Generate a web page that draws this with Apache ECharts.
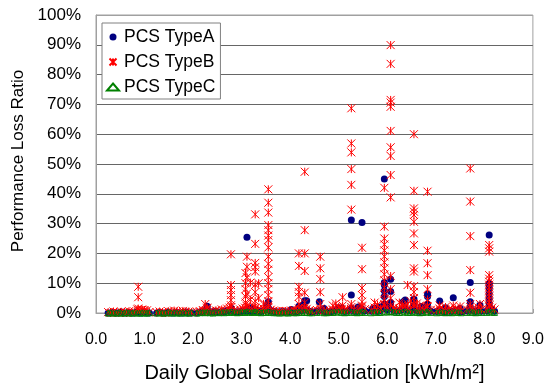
<!DOCTYPE html>
<html><head><meta charset="utf-8">
<script src="https://cdn.jsdelivr.net/npm/echarts@6/dist/echarts.min.js"></script>
<style>html,body{margin:0;padding:0;background:#fff}#c{width:547px;height:388px}</style>
</head><body><div id="c"></div>
<script>
// Daily global solar irradiation of the recorded days [kWh/m2]
const days = [
 0.25,0.30,0.36,0.42,0.47,0.52,0.58,0.63,0.68,0.74,0.79,0.85,0.90,0.95,1.00,1.05,1.10,
 1.25,1.31,1.37,1.43,1.49,1.55,1.61,1.67,1.73,1.79,1.85,1.91,1.97,
 2.08,2.14,2.20,2.25,2.29,2.35,2.41,2.47,2.53,2.59,2.64,2.70,2.75,2.79,2.85,2.91,2.97,3.02,3.07,3.11,3.16,3.21,3.26,3.29,3.34,3.40,3.45,3.50,3.55,3.60,3.66,3.72,3.78,3.84,3.90,3.96,4.02,4.08,4.13,4.18,4.24,4.30,4.34,4.40,4.45,
 4.55,4.62,4.70,4.75,4.82,4.88,4.94,5.00,5.06,5.12,5.18,5.26,5.32,5.38,5.44,5.48,5.54,5.67,5.74,5.80,5.86,5.94,6.00,6.07,6.13,6.19,6.25,6.31,6.37,6.42,6.48,6.55,6.61,6.67,6.73,6.80,6.83,6.90,7.02,7.08,7.14,7.20,7.27,7.33,7.40,7.46,7.52,7.64,7.71,7.76,7.82,7.88,7.94,8.05,8.10,8.16,8.21
];
// Baseline loss ratio [%] per day, one value per series (aligned with days)
const baseA = [
 0,0,0.2,0,0,0.3,0,0,0.2,0,0,0.4,0,0,0.2,0,0,
 0,0.2,0,0,0.3,0,0,0.2,0,0,0.3,0,0,
 0,0.3,0.5,0.8,1.2,0.4,0.3,0.6,0.2,0.5,0.4,0.8,0.6,1.5,0.4,0.3,0.5,0.6,0.8,1.2,0.7,0.5,0.9,1.0,0.6,0.5,0.8,1.1,1.8,0.7,0.5,0.4,0.3,0.5,0.4,0.3,0.5,0.6,0.4,0.9,0.8,1.2,1.0,0.5,0.4,
 0.6,0.9,0.5,0.3,0.4,0.6,1.0,1.2,0.8,0.5,0.7,1.0,0.6,0.5,0.8,1.3,0.7,0.6,1.1,0.5,0.8,1.5,1.0,1.8,0.9,0.6,0.8,1.2,1.6,0.9,0.7,1.4,0.8,0.5,0.9,1.2,1.5,0.6,0.5,1.0,0.6,0.4,0.7,0.5,0.9,0.6,0.4,0.7,1.4,0.8,0.5,1.1,0.6,0.7,1.8,1.2,0.6
];
const baseB = [
 0.3,0,0.5,0.2,0,0.4,0.3,0,0.6,0.2,0.5,1.2,0.8,1.0,0.6,0.9,0.3,
 0.2,0.5,0.3,0,0.6,0.4,0.8,0.5,0.3,0.7,0.4,0.5,0.2,
 0.4,0.6,1.0,0.8,1.5,0.7,0.5,0.9,0.6,1.2,0.8,1.5,1.8,2.0,1.0,0.7,1.2,1.5,1.8,2.2,1.6,1.4,2.0,1.8,1.3,1.0,1.5,1.2,2.0,1.1,0.8,0.6,0.5,0.7,0.6,0.5,0.8,1.0,0.7,1.5,1.2,1.8,1.4,0.9,0.6,
 1.0,1.5,0.8,0.6,0.9,1.2,1.5,1.8,1.2,1.0,1.4,2.0,1.2,0.9,1.5,2.2,1.3,1.0,1.8,1.2,1.5,2.5,2.0,2.5,1.8,1.2,1.5,2.0,2.4,1.6,1.2,2.5,1.5,1.0,1.4,2.0,2.2,1.1,0.9,1.5,1.2,0.8,1.3,1.0,1.5,1.1,0.8,1.2,2.0,1.5,1.0,1.8,1.2,1.3,2.5,1.8,1.2
];
const baseC = [
 0,0.1,0,0,0.1,0,0,0.2,0,0,0.1,0,0,0.1,0,0,0.1,
 0,0.1,0,0,0.2,0,0.1,0,0,0.1,0,0,0.1,
 0,0.1,0.2,0.1,0.3,0.1,0,0.2,0.1,0.2,0.1,0.3,0.2,0.4,0.2,0.1,0.2,0.3,0.2,0.4,0.3,0.2,0.3,0.4,0.2,0.1,0.3,0.2,0.4,0.2,0.1,0.1,0,0.1,0.1,0,0.2,0.1,0.1,0.3,0.2,0.3,0.2,0.1,0.1,
 0.2,0.3,0.1,0.1,0.2,0.2,0.3,0.4,0.2,0.1,0.2,0.3,0.2,0.1,0.2,0.4,0.2,0.1,0.3,0.2,0.2,0.4,0.3,0.5,0.3,0.2,0.2,0.3,0.4,0.2,0.2,0.4,0.2,0.1,0.2,0.3,0.4,0.2,0.1,0.3,0.2,0.1,0.2,0.1,0.3,0.2,0.1,0.2,0.4,0.2,0.1,0.3,0.2,0.2,0.4,0.3,0.2
];
// Further PCS units [irradiation, loss %]
const extraA = [
 [2.29,2.3],[3.11,25.4],[3.55,3.8],[3.53,2.8],[3.20,1.8],[4.18,2.3],[4.30,4.1],[4.34,4.1],[4.28,2.8],[4.60,3.8],
 [4.99,1.8],[5.06,1.7],[5.26,31.2],[5.48,30.4],[5.26,6.0],[5.26,1.7],[5.74,1.7],[5.70,1.5],[5.94,45.0],[5.94,10.2],
 [5.94,9.4],[5.94,7.5],[5.94,5.5],[5.94,3.0],[6.07,11.3],[6.07,7.2],[6.07,3.5],[6.07,2.2],[6.33,3.8],[6.37,4.4],
 [6.55,4.7],[6.55,2.5],[6.83,6.4],[6.83,5.5],[6.83,3.0],[7.08,4.0],[7.36,5.1],[7.71,10.2],[7.71,3.8],[7.71,2.0],
 [7.91,2.7],[8.10,26.2],[8.10,9.9],[8.10,9.2],[8.10,8.2],[8.10,6.5],[8.10,4.8],[8.10,3.2],[8.10,2.0],[6.00,2.5],
 [5.40,2.0],[4.70,1.5],[5.86,2.0],[6.70,2.2],[7.20,1.8],[7.50,1.5],[4.02,1.2]
];
const extraB = [
 [0.87,8.8],[0.87,5.3],[0.87,1.5],[0.95,1.2],[1.00,1.0],[2.25,3.0],[2.29,1.8],
 [2.78,19.7],[2.78,9.4],[2.78,7.7],[2.78,6.0],[2.78,4.3],[2.78,2.6],
 [3.08,13.4],[3.08,10.0],[3.08,8.0],[3.08,5.5],[3.08,3.5],
 [3.11,18.9],[3.11,15.5],[3.11,12.0],[3.11,6.5],[3.11,2.5],[3.18,10.2],[3.18,4.5],
 [3.28,33.1],[3.28,23.2],[3.28,16.8],[3.28,15.4],[3.28,13.9],[3.28,9.5],[3.28,7.0],[3.28,4.0],[3.35,10.0],[3.35,5.0],[3.45,3.0],
 [3.55,41.5],[3.55,37.0],[3.55,33.7],[3.55,29.5],[3.55,27.8],[3.55,26.0],[3.55,24.5],[3.55,22.0],[3.55,18.9],
 [3.55,16.5],[3.55,14.5],[3.55,12.0],[3.55,10.0],[3.55,8.0],[3.55,6.0],[3.55,4.0],[3.55,2.5],
 [4.18,20.0],[4.18,15.8],[4.18,8.8],[4.18,7.0],[4.18,5.5],[4.18,3.0],
 [4.30,47.4],[4.30,27.8],[4.30,20.0],[4.30,14.1],[4.30,6.8],[4.30,3.5],
 [4.62,18.9],[4.62,15.0],[4.62,11.4],[4.62,7.0],[4.62,3.0],[4.88,2.5],[4.94,3.2],[5.00,2.0],
 [5.08,5.3],[5.08,2.5],
 [5.26,68.7],[5.26,56.9],[5.26,53.9],[5.26,48.3],[5.26,43.0],[5.26,34.7],[5.26,3.0],
 [5.48,21.9],[5.48,14.7],[5.48,8.4],[5.48,6.0],[5.48,3.8],[5.48,2.5],[5.74,3.5],[5.80,2.8],
 [5.94,42.0],[5.94,29.0],[5.94,25.0],[5.94,23.0],[5.94,21.0],[5.94,19.0],[5.94,17.0],[5.94,15.0],[5.94,13.0],
 [5.94,11.0],[5.94,8.5],[5.94,6.5],[5.94,4.5],[5.94,3.0],
 [6.07,89.9],[6.07,83.6],[6.07,71.5],[6.07,70.6],[6.07,69.2],[6.07,61.1],[6.07,55.6],[6.07,52.7],[6.07,46.3],
 [6.07,38.8],[6.07,12.4],[6.07,8.0],[6.07,5.0],
 [6.25,3.5],[6.31,2.8],[6.42,9.4],[6.42,3.0],[6.48,4.0],[6.61,3.2],[6.67,2.5],
 [6.55,60.0],[6.55,41.0],[6.55,35.1],[6.55,34.0],[6.55,32.9],[6.55,30.6],[6.55,26.7],[6.55,22.8],[6.55,15.0],
 [6.55,13.9],[6.55,9.0],[6.55,7.0],[6.55,5.0],[6.55,3.0],
 [6.83,40.7],[6.83,20.9],[6.83,16.7],[6.83,12.7],[6.83,8.0],[6.83,4.5],
 [7.08,2.5],[7.20,2.0],[7.36,2.5],[7.50,2.2],
 [7.71,48.5],[7.71,37.4],[7.71,25.8],[7.71,14.4],[7.71,6.8],[7.71,3.0],[7.91,3.0],
 [8.10,22.8],[8.10,21.7],[8.10,20.6],[8.10,12.7],[8.10,11.5],[8.10,10.5],[8.10,9.5],[8.10,8.5],[8.10,7.5],
 [8.10,6.5],[8.10,5.5],[8.10,4.5],[8.10,3.5],[8.10,2.5]
];
const seriesNames = ['PCS TypeA','PCS TypeB','PCS TypeC'];
const xTicks = [0,1,2,3,4,5,6,7,8,9];
const yTicks = [0,10,20,30,40,50,60,70,80,90,100];

const dataA = days.map((d,i)=>[d,baseA[i]]).concat(extraA);
const dataB = days.map((d,i)=>[d,baseB[i]]).concat(extraB);
const dataC = days.map((d,i)=>[d,baseC[i]]);

const FONT = 'Liberation Sans, Arial, sans-serif';
const chart = echarts.init(document.getElementById('c'), null, {renderer:'canvas'});
chart.setOption({
  animation:false,
  backgroundColor:'#fff',
  textStyle:{fontFamily:FONT,color:'#000'},
  grid:{left:96,right:12,top:15,bottom:75,show:true,borderColor:'#a0a0a0',borderWidth:1,backgroundColor:'#fff'},
  legend:{
    orient:'vertical',left:102,top:23,
    padding:[5,5,3,4],itemGap:7,itemWidth:12,itemHeight:7,
    borderColor:'#808080',borderWidth:1,backgroundColor:'#fff',
    textStyle:{fontFamily:FONT,fontSize:17.5,color:'#000'},
    data:seriesNames
  },
  xAxis:{
    type:'value',min:xTicks[0],max:xTicks[xTicks.length-1],interval:1,
    name:'Daily Global Solar Irradiation [kWh/m²]',nameLocation:'middle',nameGap:50,
    nameTextStyle:{fontFamily:FONT,fontSize:20,color:'#000'},
    axisLine:{lineStyle:{color:'#a0a0a0',width:1}},
    axisTick:{show:true,inside:true,length:4,lineStyle:{color:'#a0a0a0'}},
    axisLabel:{fontFamily:FONT,fontSize:16,color:'#000',margin:19,formatter:v=>v.toFixed(1)},
    splitLine:{show:false}
  },
  yAxis:{
    type:'value',min:yTicks[0],max:yTicks[yTicks.length-1],interval:10,
    name:'Performance Loss Ratio',nameLocation:'middle',nameGap:67,
    nameTextStyle:{fontFamily:FONT,fontSize:17,color:'#000',padding:[0,0,0,6]},
    axisLine:{show:true,lineStyle:{color:'#a0a0a0',width:1}},
    axisTick:{show:false},
    axisLabel:{fontFamily:FONT,fontSize:17,color:'#000',margin:15,formatter:'{value}%'},
    splitLine:{show:true,lineStyle:{color:['#666','#666','#666','#666','#666','#666','#666','#666','#666','#666','#a0a0a0'],width:1}}
  },
  series:[
    {name:seriesNames[0],type:'scatter',data:dataA,symbol:'circle',symbolSize:7,
     itemStyle:{color:'#000080',opacity:1}},
    {name:seriesNames[1],type:'scatter',data:dataB,
     symbol:'path://M0,0L10,10M10,0L0,10M5,0L5,10',symbolSize:8,
     itemStyle:{color:'rgba(0,0,0,0)',borderColor:'#ff0000',borderWidth:1,opacity:1}},
    {name:seriesNames[2],type:'scatter',data:dataC,symbol:'triangle',symbolSize:6,
     itemStyle:{color:'rgba(0,0,0,0)',borderColor:'#008000',borderWidth:1,opacity:1}}
  ]
});
</script></body></html>
